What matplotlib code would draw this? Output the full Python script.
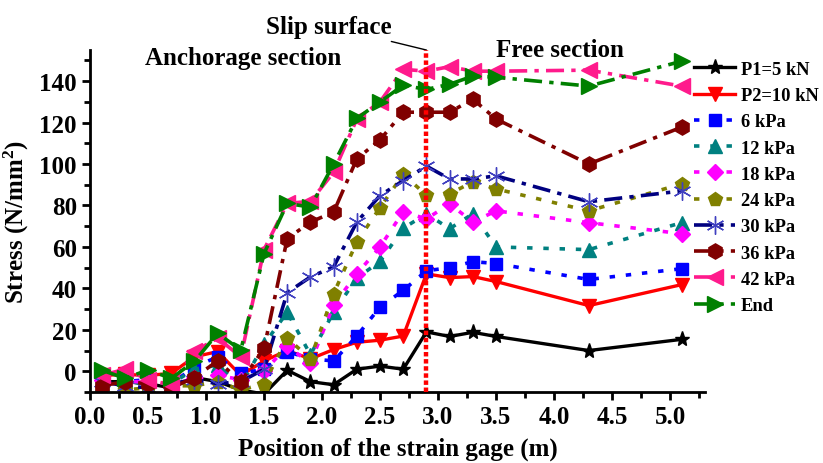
import numpy as np
import matplotlib.pyplot as plt
from matplotlib.ticker import MultipleLocator

plt.rcParams['font.family'] = ['Liberation Serif', 'DejaVu Serif']
plt.rcParams['font.weight'] = 'bold'
plt.rcParams['axes.labelweight'] = 'bold'
plt.rcParams['mathtext.fontset'] = 'custom'
plt.rcParams['mathtext.rm'] = 'Liberation Serif:bold'
plt.rcParams['mathtext.default'] = 'rm'

# strain gage positions (m)
x = [0.1, 0.3, 0.5, 0.7, 0.9, 1.1, 1.3, 1.5, 1.7, 1.9, 2.1, 2.3, 2.5, 2.7,
     2.9, 3.1, 3.3, 3.5, 4.3, 5.1]

# stress (N/mm2) per load step
p1 = [-5, -5, -6, -8, -3, -5, -9, -11, 0.5, -5, -6.5, 1, 2.5, 1,
      19, 16.8, 18.8, 16.8, 10, 15.4]
p2 = [-2, -1.5, -2, -1, 7, 9.5, -2, 5, 10, 6, 10.5, 14, 15, 17,
      47, 45.2, 45.7, 43.3, 31.7, 41.8]
k6 = [-4, -5, -4, -6, 2, 7, -1, 1, 9.5, 6, 5, 17, 31, 39,
      48.5, 50, 52.9, 52, 44.3, 49.5]
k12 = [-6, -4, -7, -6, 1, 3, -7, 13, 28.5, 8, 28.5, 45, 53, 69,
       76, 68.8, 76, 60, 58.7, 71.7]
k18 = [-4, -5, -5, -6.7, -3.4, -2, -4, 0, 12, 4, 32, 47, 60, 77,
       73.5, 80.8, 72, 77.4, 71.7, 66.4]
k24 = [-8, -9, -8, -7, -7, -5, -9, -6, 16, 6, 37.5, 62.4, 79, 95,
       85, 85.6, 91.4, 88, 77.4, 90.4]
k30 = [-5, -7, -8, -6, -4, -6, -5, 1, 38, 45.5, 50.4, 72, 84.8, 92,
       99, 92.8, 92.8, 94.3, 81.8, 87]
k36 = [-7, -5, -6, -8, -3, 5, -5, 11, 64, 72, 76.8, 102.5, 111.7, 125,
       125, 125, 131.3, 121.7, 100, 117.8]
k42 = [-2, 1, -4, -6.6, 9.6, 16, 7, 58.7, 81, 82, 96, 121.7, 130, 145.7,
       144.8, 147, 144.8, 144.8, 145.3, 137.6]
kend = [0.6, -3.4, 0.6, -3.4, 4.8, 18.3, 10.2, 56.8, 81, 79.2, 100, 122, 130, 138,
        136, 138.5, 142.4, 141.9, 137.6, 149.6]

labels = ['P1=5 kN', 'P2=10 kN', '6 kPa', '12 kPa', '18 kPa', '24 kPa',
          '30 kPa', '36 kPa', '42 kPa', 'End']
series = [p1, p2, k6, k12, k18, k24, k30, k36, k42, kend]

slip_x = 2.9

dot = (0, (1.5, 3))
dashdot = (0, (5, 2, 1.2, 2))
styles = [
    dict(color='black', ls='-', lw=2.4, marker='*', ms=11),
    dict(color='red', ls='-', lw=2.4, marker='v', ms=10),
    dict(color='blue', ls=dot, lw=2.6, marker='s', ms=8.5),
    dict(color='#008080', ls=dot, lw=2.6, marker='^', ms=10),
    dict(color='magenta', ls=dot, lw=2.6, marker='D', ms=8.5),
    dict(color='#808000', ls=dot, lw=2.6, marker='p', ms=10.5),
    dict(color='#000080', ls=dashdot, lw=2.6, marker=(6, 2, 0), ms=13,
         mec='#4040c0', mew=1.0),
    dict(color='#800000', ls=dashdot, lw=2.6, marker='h', ms=11),
    dict(color='#ff1a8c', ls=dashdot, lw=2.6, marker='<', ms=11),
    dict(color='#008000', ls=dashdot, lw=2.6, marker='>', ms=11),
]

fig = plt.figure(figsize=(8.23, 4.64), dpi=100)
ax = fig.add_axes([0.1094, 0.153, 0.747, 0.737])

for ys, lab, st in zip(series, labels, styles):
    ax.plot(x, ys, label=lab, **st)

ax.axvline(slip_x, color='red', ls=(0, (1, 0.6)), lw=3.2, zorder=5)

ax.set_xlim(0, 5.3)
ax.set_ylim(-10, 155)
ax.xaxis.set_minor_locator(MultipleLocator(0.25))
ax.yaxis.set_minor_locator(MultipleLocator(10))
ax.set_xticks(np.arange(0, 5.01, 0.5))
ax.set_xticklabels(['%.1f' % v for v in np.arange(0, 5.01, 0.5)])
ax.set_yticks(np.arange(0, 141, 20))
ax.spines['top'].set_visible(False)
ax.spines['right'].set_visible(False)
for s in ['left', 'bottom']:
    ax.spines[s].set_linewidth(2)
ax.tick_params(which='major', direction='out', length=6, width=2, labelsize=18)
ax.tick_params(which='minor', direction='out', length=4, width=2)

ax.set_xlabel('Position of the strain gage (m)', fontsize=18, labelpad=6)
ax.set_ylabel('Stress (N/mm$^2$)', fontsize=18, labelpad=6)

ax.text(1.32, 151.5, 'Anchorage section', fontsize=18, ha='center', va='center')
ax.text(4.05, 155.3, 'Free section', fontsize=18, ha='center', va='center')
ax.annotate('Slip surface', xy=(slip_x, 155), xytext=(2.6, 166.5),
            fontsize=18, ha='right', va='center', annotation_clip=False,
            arrowprops=dict(arrowstyle='-', color='black', lw=1,
                            shrinkA=3, shrinkB=0))

ax.legend(loc='upper left', bbox_to_anchor=(0.971, 0.99), frameon=False,
          prop={'size': 13.3, 'weight': 'bold'}, handlelength=2.2,
          handletextpad=0.3, labelspacing=0.5, borderaxespad=0)

fig.savefig('out.png', dpi=100)
